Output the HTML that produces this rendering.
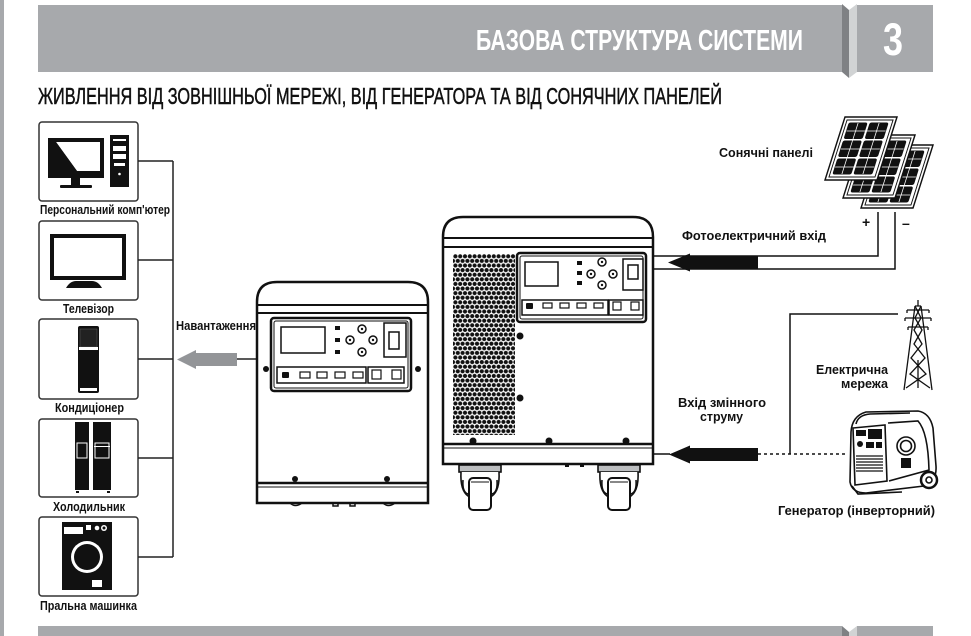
<!DOCTYPE html>
<html><head><meta charset="utf-8">
<style>
html,body{margin:0;padding:0;background:#fff;}
svg{display:block;}
text{font-family:"Liberation Sans","DejaVu Sans",sans-serif;}
</style></head><body>
<svg width="971" height="636" viewBox="0 0 971 636" xmlns="http://www.w3.org/2000/svg">
<defs>
<pattern id="vent" x="453" y="254" width="4.8" height="9.2" patternUnits="userSpaceOnUse">
<circle cx="2.4" cy="2.3" r="2.1" fill="#111"/>
<circle cx="0" cy="6.9" r="2.1" fill="#111"/>
<circle cx="4.8" cy="6.9" r="2.1" fill="#111"/>
</pattern>
<g id="panel">
<rect x="0" y="0" width="52" height="63" fill="#fff" stroke="#111" stroke-width="1.5"/>
<rect x="3" y="3" width="46" height="57" fill="#fff" stroke="#111" stroke-width="1"/>
<g fill="#111">
<rect x="5.5" y="5.5" width="19" height="16.5" rx="2"/><rect x="26.5" y="5.5" width="19" height="16.5" rx="2"/>
<rect x="5.5" y="23.5" width="19" height="16.5" rx="2"/><rect x="26.5" y="23.5" width="19" height="16.5" rx="2"/>
<rect x="5.5" y="41.5" width="19" height="16" rx="2"/><rect x="26.5" y="41.5" width="19" height="16" rx="2"/>
</g>
<g stroke="#fff" stroke-width="0.8">
<path d="M15,6V57 M36,6V57 M6,14H45 M6,32H45 M6,50H45"/>
</g>
</g>
</defs>

<!-- left strip -->
<rect x="0" y="0" width="4" height="636" fill="#a7a9ac"/>

<!-- header -->
<rect x="38" y="5" width="804" height="67" fill="#a7a9ac"/>
<rect x="857" y="5" width="76" height="67" fill="#a7a9ac"/>
<polygon points="842,4 849,10 849,78 842,72" fill="#7f8184"/>
<polygon points="849,10 857,4 857,72 849,78" fill="#d1d3d4"/>
<text x="476" y="50" font-size="29" font-weight="bold" fill="#fff" textLength="327" lengthAdjust="spacingAndGlyphs">БАЗОВА СТРУКТУРА СИСТЕМИ</text>
<text x="883" y="55" font-size="45" font-weight="bold" fill="#fff" textLength="20" lengthAdjust="spacingAndGlyphs">3</text>

<text x="38" y="104" font-size="23" fill="#111" stroke="#111" stroke-width="0.5" textLength="684" lengthAdjust="spacingAndGlyphs">ЖИВЛЕННЯ ВІД ЗОВНІШНЬОЇ МЕРЕЖІ, ВІД ГЕНЕРАТОРА ТА ВІД СОНЯЧНИХ ПАНЕЛЕЙ</text>

<!-- bottom bar -->
<rect x="38" y="626" width="804" height="10" fill="#a7a9ac"/>
<rect x="857" y="626" width="76" height="10" fill="#a7a9ac"/>
<polygon points="842,626 849,632 849,636 842,636" fill="#7f8184"/>
<polygon points="849,632 857,626 857,636 849,636" fill="#d1d3d4"/>

<!-- left boxes -->
<g fill="#fff" stroke="#333" stroke-width="1.5">
<rect x="39" y="122" width="99" height="79" rx="3"/>
<rect x="39" y="221" width="99" height="79" rx="3"/>
<rect x="39" y="319" width="99" height="80" rx="3"/>
<rect x="39" y="419" width="99" height="78" rx="3"/>
<rect x="39" y="517" width="99" height="79" rx="3"/>
</g>
<!-- bus -->
<g stroke="#222" stroke-width="1.5" fill="none">
<path d="M173,161V557 M138,161H173 M138,260H173 M138,359H173 M138,458H173 M138,557H173"/>
</g>

<!-- PC -->
<rect x="48" y="138" width="56" height="40" fill="#111"/>
<polygon points="56,142 100,142 100,171 77,171" fill="#fff"/>
<polygon points="52,142 56,142 77,171 52,171" fill="#111"/>
<rect x="50" y="173" width="52" height="3" fill="#111"/>
<rect x="71" y="178" width="9" height="7" fill="#111"/>
<rect x="60" y="185" width="32" height="3" rx="1" fill="#111"/>
<rect x="110" y="135" width="19" height="52" fill="#111"/>
<g fill="#fff"><rect x="113" y="139" width="13" height="2"/><rect x="113" y="146" width="13" height="5"/><rect x="113" y="154" width="13" height="5"/><rect x="114" y="163" width="11" height="3"/><circle cx="119.5" cy="174" r="1.3"/></g>

<!-- TV -->
<rect x="52" y="236" width="72" height="42" fill="none" stroke="#111" stroke-width="4"/>
<path d="M66,288 Q70,281 76,281 H92 Q98,281 102,288 Z" fill="#111"/>

<!-- AC -->
<rect x="78" y="326" width="21" height="67" rx="2" fill="#111"/>
<rect x="80" y="329" width="17" height="18" fill="#222" stroke="#555" stroke-width="0.6"/>
<rect x="79" y="347" width="19" height="3" fill="#fff"/>
<rect x="80" y="388" width="17" height="3" fill="#fff"/>

<!-- fridge -->
<rect x="75" y="422" width="14" height="68" fill="#111"/>
<rect x="93" y="422" width="18" height="68" fill="#111"/>
<rect x="77" y="443" width="10" height="15" fill="none" stroke="#fff" stroke-width="1"/>
<rect x="95" y="443" width="14" height="15" fill="none" stroke="#fff" stroke-width="1"/>
<rect x="94" y="446" width="16" height="1" fill="#fff"/>
<g fill="#111"><rect x="76" y="491" width="3" height="2"/><rect x="107" y="491" width="3" height="2"/></g>

<!-- washer -->
<rect x="62" y="522" width="50" height="68" fill="#111"/>
<rect x="64" y="527" width="19" height="7" fill="#fff"/>
<rect x="86" y="525" width="5" height="5" fill="#fff"/>
<circle cx="97" cy="528" r="2.3" fill="#fff"/>
<circle cx="104" cy="528" r="3" fill="#fff"/>
<circle cx="104" cy="528" r="1.5" fill="#111"/>
<circle cx="87" cy="557" r="16" fill="#fff"/>
<circle cx="87" cy="557" r="13" fill="#111"/>
<rect x="92" y="580" width="10" height="7" fill="#fff"/>

<!-- labels -->
<g font-size="13" font-weight="bold" fill="#111">
<text x="40" y="214" textLength="130" lengthAdjust="spacingAndGlyphs">Персональний комп'ютер</text>
<text x="63" y="313" textLength="51" lengthAdjust="spacingAndGlyphs">Телевізор</text>
<text x="55" y="412" textLength="69" lengthAdjust="spacingAndGlyphs">Кондиціонер</text>
<text x="53" y="511" textLength="72" lengthAdjust="spacingAndGlyphs">Холодильник</text>
<text x="40" y="610" textLength="97" lengthAdjust="spacingAndGlyphs">Пральна машинка</text>
<text x="176" y="330" textLength="80" lengthAdjust="spacingAndGlyphs">Навантаження</text>
<text x="719" y="157" textLength="94" lengthAdjust="spacingAndGlyphs">Сонячні панелі</text>
<text x="682" y="240" textLength="144" lengthAdjust="spacingAndGlyphs">Фотоелектричний вхід</text>
<text x="816" y="374" textLength="72" lengthAdjust="spacingAndGlyphs">Електрична</text>
<text x="841" y="388" textLength="47" lengthAdjust="spacingAndGlyphs">мережа</text>
<text x="678" y="407" textLength="88" lengthAdjust="spacingAndGlyphs">Вхід змінного</text>
<text x="700" y="421" textLength="43" lengthAdjust="spacingAndGlyphs">струму</text>
<text x="778" y="515" textLength="157" lengthAdjust="spacingAndGlyphs">Генератор (інверторний)</text>
</g>

<!-- gray arrow -->
<polygon points="177,359.5 196,350 196,353 237,353 237,366 196,366 196,369" fill="#939598"/>
<path d="M237,359H257" stroke="#222" stroke-width="1.5"/>

<!-- small device -->
<g stroke="#111" fill="none">
<path d="M257,503 V302 Q257,282 277,282 H408 Q428,282 428,302 V503 Z" fill="#fff" stroke-width="2.5"/>
<path d="M257,305H428 M257,313H428" stroke-width="2"/>
<path d="M257,483H428" stroke-width="2.5"/>
<path d="M257,487H428" stroke-width="1"/>
<path d="M290,503 q5,5 12,0 M333,503v3h5v-3 M350,503v3h5v-3 M383,503 q5,5 12,0" stroke-width="1.5"/>
<rect x="271" y="318" width="140" height="73" rx="3" stroke-width="2.5"/>
<rect x="274" y="321" width="134" height="67" rx="2" stroke-width="1"/>
<rect x="281" y="327" width="44" height="26" stroke-width="1.5"/>
<circle cx="362" cy="329" r="4" stroke-width="1.5"/>
<circle cx="350" cy="340" r="4" stroke-width="1.5"/>
<circle cx="373" cy="340" r="4" stroke-width="1.5"/>
<circle cx="362" cy="352" r="4" stroke-width="1.5"/>
<rect x="384" y="323" width="22" height="34" stroke-width="1.5"/>
<rect x="389" y="332" width="10" height="17" stroke-width="1.5"/>
<rect x="277" y="367" width="89" height="16" stroke-width="1.5"/>
<rect x="300" y="372" width="10" height="6" stroke-width="1.2"/>
<rect x="317" y="372" width="10" height="6" stroke-width="1.2"/>
<rect x="335" y="372" width="10" height="6" stroke-width="1.2"/>
<rect x="353" y="372" width="10" height="6" stroke-width="1.2"/>
<rect x="368" y="367" width="36" height="16" stroke-width="1.5"/>
<rect x="372" y="370" width="9" height="9" stroke-width="1.2"/>
<rect x="392" y="370" width="9" height="9" stroke-width="1.2"/>
</g>
<g fill="#111">
<rect x="335" y="326" width="5" height="4"/><rect x="335" y="338" width="5" height="4"/><rect x="335" y="350" width="5" height="4"/>
<rect x="282" y="372" width="7" height="6" rx="1"/>
<circle cx="362" cy="329" r="1.2"/><circle cx="350" cy="340" r="1.2"/><circle cx="373" cy="340" r="1.2"/><circle cx="362" cy="352" r="1.2"/>
<circle cx="266" cy="369" r="3"/><circle cx="418" cy="369" r="3"/>
<circle cx="295" cy="479" r="3"/><circle cx="387" cy="479" r="3"/>
</g>

<!-- large device -->
<g stroke="#111" fill="none">
<path d="M443,464 V237 Q443,217 463,217 H633 Q653,217 653,237 V464 Z" fill="#fff" stroke-width="2.5"/>
<path d="M443,238H653 M443,247H653" stroke-width="2"/>
<path d="M443,444H653" stroke-width="2.5"/>
<path d="M443,448H653" stroke-width="1"/>
</g>
<rect x="453" y="254" width="62" height="181" fill="url(#vent)"/>
<g stroke="#111" fill="none">
<rect x="517" y="253" width="129" height="69" rx="3" stroke-width="2.5"/>
<rect x="520" y="256" width="123" height="63" rx="2" stroke-width="1"/>
<rect x="525" y="262" width="33" height="24" stroke-width="1.5"/>
<circle cx="602" cy="262" r="4" stroke-width="1.5"/>
<circle cx="591" cy="274" r="4" stroke-width="1.5"/>
<circle cx="613" cy="274" r="4" stroke-width="1.5"/>
<circle cx="602" cy="285" r="4" stroke-width="1.5"/>
<rect x="623" y="259" width="20" height="31" stroke-width="1.5"/>
<rect x="628" y="265" width="10" height="14" stroke-width="1.5"/>
<rect x="522" y="300" width="86" height="15" stroke-width="1.5"/>
<rect x="543" y="303" width="9" height="5" stroke-width="1.2"/>
<rect x="560" y="303" width="9" height="5" stroke-width="1.2"/>
<rect x="577" y="303" width="9" height="5" stroke-width="1.2"/>
<rect x="594" y="303" width="9" height="5" stroke-width="1.2"/>
<rect x="609" y="300" width="34" height="15" stroke-width="1.5"/>
<rect x="613" y="302" width="8" height="8" stroke-width="1.2"/>
<rect x="631" y="302" width="8" height="8" stroke-width="1.2"/>
</g>
<g fill="#111">
<rect x="577" y="261" width="5" height="4"/><rect x="577" y="271" width="5" height="4"/><rect x="577" y="281" width="5" height="4"/>
<rect x="526" y="303" width="7" height="6" rx="1"/>
<circle cx="602" cy="262" r="1.2"/><circle cx="591" cy="274" r="1.2"/><circle cx="613" cy="274" r="1.2"/><circle cx="602" cy="285" r="1.2"/>
<circle cx="520" cy="336" r="3.5"/><circle cx="520" cy="398" r="3.5"/>
<circle cx="473" cy="441" r="3.5"/><circle cx="549" cy="441" r="3.5"/><circle cx="626" cy="441" r="3.5"/>
<rect x="565" y="464" width="4" height="3"/><rect x="580" y="464" width="4" height="3"/>
</g>
<!-- wheels -->
<g id="wheel" stroke="#111" stroke-width="1.6">
<rect x="459" y="465" width="42" height="7" fill="#bcbec0"/>
<path d="M461,472 Q460,490 468,496 H492 Q500,490 499,472" fill="#fff"/>
<path d="M463,480 Q462,492 468,494 M497,480 Q498,492 492,494" fill="none"/>
<rect x="469" y="478" width="22" height="32" rx="4" fill="#fff" stroke-width="2"/>
<path d="M471,482H489" fill="none" stroke-width="1"/>
</g>
<use href="#wheel" transform="translate(139,0)"/>

<!-- solar connection -->
<g stroke="#111" stroke-width="1.5" fill="none">
<path d="M653,256H878V212"/>
<path d="M653,269H895V212"/>
</g>
<polygon points="668,262.5 690,253.5 690,256 758,256 758,269 690,269 690,271.5" fill="#111"/>
<text x="862" y="227" font-size="14" font-weight="bold" fill="#111">+</text>
<text x="902" y="228" font-size="14" font-weight="bold" fill="#111">–</text>

<!-- solar panels -->
<use href="#panel" transform="translate(881,145) skewX(-17.6)"/>
<use href="#panel" transform="translate(863,135) skewX(-17.6)"/>
<use href="#panel" transform="translate(845,117) skewX(-17.6)"/>

<!-- AC connection -->
<g stroke="#111" stroke-width="1.5" fill="none">
<path d="M653,454H670"/>
<path d="M790,454V314H898"/>
<path d="M758,454H847" stroke-dasharray="3,3"/>
</g>
<polygon points="669,454.5 690,445.5 690,448 758,448 758,461 690,461 690,463.5" fill="#111"/>

<!-- tower -->
<g stroke="#111" stroke-width="1.3" fill="none">
<path d="M918,300V306 M915,306 L904,390 M921,306 L932,390 M915,306H921"/>
<path d="M907,310H929 M905,318H931 M908,327H928"/>
<path d="M907,310v3 M929,310v3 M905,318v3 M931,318v3 M908,327v3 M928,327v3"/>
<path d="M915,306 L921,318 L914,330 L922,344 L911,358 L926,374 L906,388"/>
<path d="M921,306 L915,318 L922,330 L914,344 L925,358 L910,374 L930,388"/>
<path d="M918,388V360"/>
</g>

<!-- generator -->
<g stroke="#111" fill="none" stroke-width="1.6">
<path d="M851,432 Q852,416 866,412 L918,411 Q930,413 933,428 L936,466 Q937,482 924,486 L866,493 Q852,493 850,482 Z" fill="#fff"/>
<path d="M856,424 Q858,415 870,414 L910,413"/>
<path d="M853,428 L885,425 L887,481 L855,485 Z"/>
<path d="M888,423 L918,421 Q928,432 929,470 L889,481"/>
<circle cx="906" cy="446" r="9"/>
<circle cx="906" cy="446" r="5.5"/>
<path d="M856,456H883 M856,459H883 M856,462H883 M856,465H883 M856,468H883 M856,471H883" stroke-width="1.2"/>
<circle cx="929" cy="480" r="8" stroke-width="2.5" fill="#fff"/>
<circle cx="929" cy="480" r="3"/>
<path d="M852,486 L858,494 L902,492"/>
</g>
<g fill="#111">
<rect x="856" y="430" width="10" height="6"/>
<rect x="868" y="429" width="14" height="10"/>
<circle cx="860" cy="444" r="3"/>
<rect x="866" y="442" width="8" height="6"/>
<rect x="876" y="442" width="6" height="6"/>
<rect x="901" y="458" width="10" height="10"/>
</g>
</svg>
</body></html>
